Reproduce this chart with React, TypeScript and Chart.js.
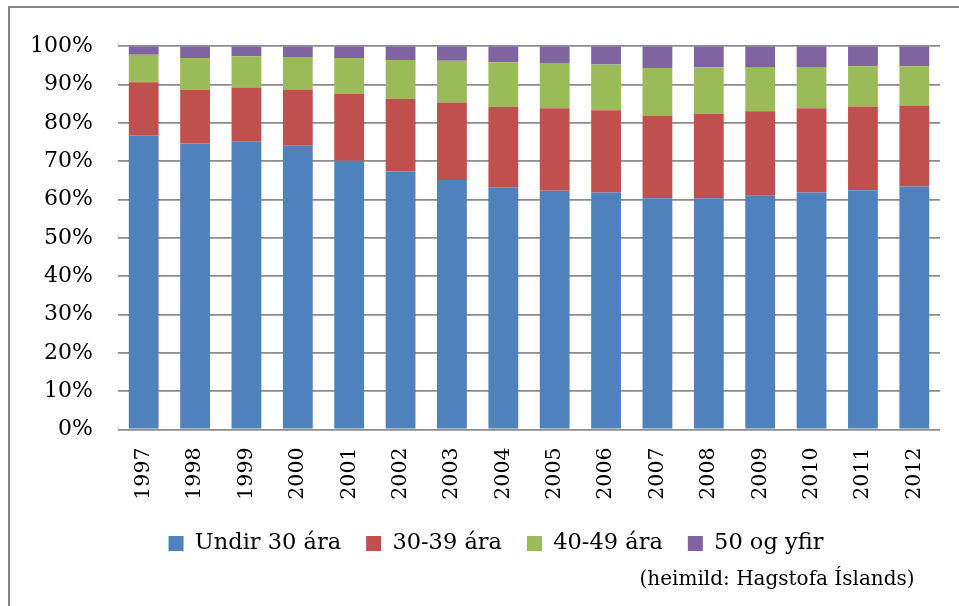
import React, { useEffect, useRef } from "react";
import { Chart, registerables } from "chart.js";

Chart.register(...registerables);

const years = ["1997","1998","1999","2000","2001","2002","2003","2004","2005","2006","2007","2008","2009","2010","2011","2012"];
const under30 = [76.8, 74.6, 75.1, 74.0, 70.1, 67.3, 65.1, 63.2, 62.3, 61.8, 60.3, 60.3, 61.0, 61.8, 62.4, 63.4];
const age30to39 = [13.8, 14.0, 14.1, 14.7, 17.5, 19.0, 20.2, 21.0, 21.5, 21.5, 21.5, 22.1, 22.0, 22.0, 21.9, 21.1];
const age40to49 = [7.2, 8.3, 8.2, 8.5, 9.3, 10.1, 10.9, 11.6, 11.8, 11.9, 12.5, 12.1, 11.6, 10.8, 10.5, 10.3];
const age50plus = [2.2, 3.1, 2.6, 2.8, 3.1, 3.6, 3.8, 4.2, 4.4, 4.8, 5.7, 5.5, 5.4, 5.4, 5.2, 5.2];
const seriesNames = ["Undir 30 ára", "30-39 ára", "40-49 ára", "50 og yfir"];
const sourceText = "(heimild: Hagstofa Íslands)";

const FONT = "'DejaVu Serif', serif";
const LEGEND_SHIFT = 21;

const shiftLegend = {
  id: "shiftLegend",
  afterLayout(chart: any) {
    const lg = chart.legend;
    if (lg) {
      lg.left += LEGEND_SHIFT;
      lg.right += LEGEND_SHIFT;
    }
  },
};

export default function App() {
  const ref = useRef<HTMLCanvasElement | null>(null);
  useEffect(() => {
    if (!ref.current) return;
    const colors = ["#4F81BD", "#C0504D", "#9BBB59", "#8064A2"];
    const values = [under30, age30to39, age40to49, age50plus];
    const chart = new Chart(ref.current, {
      type: "bar",
      data: {
        labels: years,
        datasets: values.map((v, i) => ({
          label: seriesNames[i],
          data: v,
          backgroundColor: colors[i],
          borderWidth: 0,
          barPercentage: 0.58,
          categoryPercentage: 1,
        })),
      },
      plugins: [shiftLegend],
      options: {
        animation: false,
        responsive: false,
        devicePixelRatio: 1,
        layout: { padding: { left: 0, right: 19, top: 28.5, bottom: 0 } },
        scales: {
          x: {
            stacked: true,
            grid: { display: false, drawTicks: false },
            border: { display: false },
            ticks: {
              autoSkip: false,
              maxRotation: 90,
              minRotation: 90,
              padding: 18,
              color: "#000",
              font: { family: FONT, size: 20.5 },
            },
            afterFit: (s: any) => { s.height = 77.75; },
          },
          y: {
            stacked: true,
            min: 0,
            max: 100,
            grid: { color: "#8c8c8c", lineWidth: 1.8, drawTicks: false },
            border: { display: false },
            ticks: {
              stepSize: 10,
              padding: 25,
              color: "#000",
              font: { family: FONT, size: 22 },
              callback: (v: any) => v + "%",
            },
            afterFit: (s: any) => { s.width = 108; },
          },
        },
        plugins: {
          tooltip: { enabled: false },
          legend: {
            position: "bottom",
            labels: {
              boxWidth: 15,
              boxHeight: 15,
              padding: 25,
              color: "#000",
              font: { family: FONT, size: 22.5 },
            },
          },
          subtitle: {
            display: true,
            text: sourceText + "\u00A0\u00A0\u00A0\u00A0",
            position: "bottom",
            align: "end",
            color: "#000",
            font: { family: FONT, size: 20, weight: "normal" },
            padding: { top: 3.25, bottom: 14 },
          },
        },
      },
    });
    return () => chart.destroy();
  }, []);
  return (
    <div
      style={{
        position: "fixed",
        left: 8,
        top: 6,
        width: 949,
        height: 598,
        borderTop: "2px solid #868686",
        borderLeft: "2px solid #868686",
        background: "#fff",
      }}
    >
      <canvas ref={ref} width={949} height={598} style={{ display: "block" }} />
    </div>
  );
}
